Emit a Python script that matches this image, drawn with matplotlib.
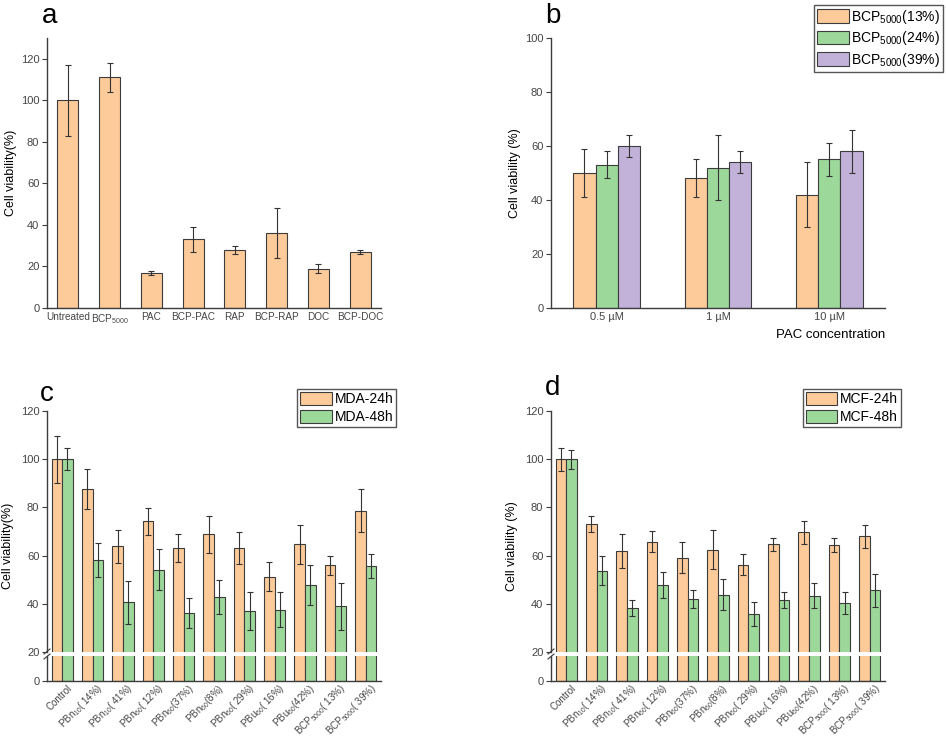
import numpy as np
import matplotlib
matplotlib.use('Agg')
import matplotlib.pyplot as plt
import matplotlib.transforms as mtrans

plt.rcParams['font.family'] = ['Liberation Sans', 'DejaVu Sans']
plt.rcParams['mathtext.fontset'] = 'custom'
plt.rcParams['mathtext.rm'] = 'Liberation Sans'
plt.rcParams['mathtext.it'] = 'Liberation Sans:italic'
plt.rcParams['mathtext.bf'] = 'Liberation Sans:bold'

ORANGE = '#fdca9a'
GREEN = '#9dd89b'
PURPLE = '#c2b2d9'
EDGE = '#3c3c3c'
TICKC = '#454545'

# panel a
a_labels = ['Untreated', r'BCP$_{\mathregular{5000}}$', 'PAC', 'BCP-PAC',
            'RAP', 'BCP-RAP', 'DOC', 'BCP-DOC']
a_values = [100, 111, 17, 33, 28, 36, 19, 27]
a_err = [17, 7, 1, 6, 2, 12, 2, 1]

# panel b
b_conc = ['0.5 \u00b5M', '1 \u00b5M', '10 \u00b5M']
b_13 = [50, 48, 42]
b_13_err = [9, 7, 12]
b_24 = [53, 52, 55]
b_24_err = [5, 12, 6]
b_39 = [60, 54, 58]
b_39_err = [4, 4, 8]
b_series = [r'BCP$_{\mathregular{5000}}$(13%)', r'BCP$_{\mathregular{5000}}$(24%)',
            r'BCP$_{\mathregular{5000}}$(39%)']

# panels c, d
cd_labels = ['Control', r'PBn$_{\mathregular{10}}$( 14%)', r'PBn$_{\mathregular{10}}$( 41%)',
             r'PBn$_{\mathregular{60}}$( 12%)', r'PBn$_{\mathregular{60}}$(37%)',
             r'PBn$_{\mathregular{60}}$(8%)', r'PBn$_{\mathregular{60}}$( 29%)',
             r'PBu$_{\mathregular{60}}$( 16%)', r'PBu$_{\mathregular{60}}$(42%)',
             r'BCP$_{\mathregular{5000}}$( 13%)', r'BCP$_{\mathregular{5000}}$( 39%)']
mda_24 = [100, 87.6, 63.8, 74.2, 63.1, 68.9, 63.1, 51.3, 64.7, 55.9, 78.7]
mda_24_err = [9.7, 8.4, 6.9, 5.6, 5.9, 7.7, 6.6, 6.0, 8.2, 4.0, 8.8]
mda_48 = [100, 58.2, 40.6, 54.2, 36.1, 42.9, 37.0, 37.5, 47.7, 39.0, 55.6]
mda_48_err = [4.5, 7.2, 8.9, 8.5, 6.1, 7.0, 7.8, 7.3, 8.4, 9.7, 5.0]
mcf_24 = [100, 73.3, 61.8, 65.7, 59.2, 62.5, 56.3, 64.7, 69.6, 64.5, 68.1]
mcf_24_err = [4.8, 3.3, 7.0, 4.4, 6.4, 8.0, 4.5, 2.7, 4.8, 2.8, 4.8]
mcf_48 = [100, 53.7, 38.4, 47.8, 41.9, 43.8, 35.7, 41.7, 43.3, 40.5, 45.6]
mcf_48_err = [4.0, 6.0, 3.3, 5.4, 3.7, 6.3, 5.0, 3.3, 5.2, 4.6, 6.9]

W, H = 946, 740
fig = plt.figure(figsize=(W / 100, H / 100), dpi=100)


def px_rect(left, top, right, bottom):
    return [left / W, 1 - bottom / H, (right - left) / W, (bottom - top) / H]


def style_axes(ax, xsize=7):
    for s in ('top', 'right'):
        ax.spines[s].set_visible(False)
    for s in ('left', 'bottom'):
        ax.spines[s].set_color(EDGE)
        ax.spines[s].set_linewidth(1.0)
    ax.tick_params(axis='y', direction='out', length=3.5, width=0.8, color=EDGE,
                   labelcolor=TICKC, labelsize=8, pad=2)
    ax.tick_params(axis='x', length=0, labelcolor=TICKC, labelsize=xsize, pad=3)


bar_kw = dict(edgecolor=EDGE, linewidth=0.8)
err_kw = dict(fmt='none', ecolor='#333333', elinewidth=0.8, capsize=2.5, capthick=0.8)

legend_kw = dict(loc='upper right', fontsize=10, frameon=True, fancybox=False,
                 edgecolor='#555555', framealpha=1, borderaxespad=0, borderpad=0.2,
                 handlelength=2.3, handleheight=1.1, handletextpad=0.2,
                 labelspacing=0.25)

# ---- panel a ----
ax = fig.add_axes(px_rect(47, 38, 381, 308))
x = np.arange(len(a_labels))
ax.bar(x, a_values, 0.5, color=ORANGE, **bar_kw)
ax.errorbar(x, a_values, yerr=a_err, **err_kw)
ax.set_xlim(-0.5, 7.5)
ax.set_ylim(0, 130)
ax.set_yticks(np.arange(0, 121, 20))
ax.set_xticks(x)
ax.set_xticklabels(a_labels)
style_axes(ax, xsize=7.2)
ax.set_ylabel('Cell viability(%)', fontsize=9, labelpad=3)

# ---- panel b ----
ax = fig.add_axes(px_rect(551, 38, 885, 308))
x = np.arange(len(b_conc))
w = 0.2
for off, vals, errs, col, lab in [(-w, b_13, b_13_err, ORANGE, b_series[0]),
                                  (0, b_24, b_24_err, GREEN, b_series[1]),
                                  (w, b_39, b_39_err, PURPLE, b_series[2])]:
    ax.bar(x + off, vals, w, color=col, label=lab, **bar_kw)
    ax.errorbar(x + off, vals, yerr=errs, **err_kw)
ax.set_xlim(-0.5, 2.5)
ax.set_ylim(0, 100)
ax.set_yticks(np.arange(0, 101, 20))
ax.set_xticks(x)
ax.set_xticklabels(b_conc)
style_axes(ax, xsize=8)
ax.set_ylabel('Cell viability (%)', fontsize=9, labelpad=3)
ax.set_xlabel('PAC concentration', fontsize=9.5, loc='right', labelpad=5)
ax.legend(bbox_to_anchor=(1.174, 1.122), **legend_kw)


# ---- panels c, d (broken y axis) ----
def broken_panel(left, v24, e24, v48, e48, lab24, lab48, ylabel, leg_x):
    right = left + 334
    ax_t = fig.add_axes(px_rect(left, 411, right, 652))
    ax_b = fig.add_axes(px_rect(left, 656, right, 681))
    x = np.arange(len(cd_labels))
    w = 0.35
    for a in (ax_t, ax_b):
        a.bar(x - w / 2, v24, w, color=ORANGE, label=lab24, **bar_kw)
        a.bar(x + w / 2, v48, w, color=GREEN, label=lab48, **bar_kw)
        a.set_xlim(-0.5, 10.5)
        style_axes(a)
    ax_t.errorbar(x - w / 2, v24, yerr=e24, **err_kw)
    ax_t.errorbar(x + w / 2, v48, yerr=e48, **err_kw)
    ax_t.set_ylim(20, 120)
    ax_t.set_yticks(np.arange(20, 121, 20))
    ax_t.spines['bottom'].set_visible(False)
    ax_t.set_xticks([])
    ax_b.set_ylim(0, 17)
    ax_b.set_yticks([0])
    ax_b.set_xticks(x)
    ax_b.set_xticklabels(cd_labels, rotation=45, ha='right', va='center',
                         rotation_mode='anchor')
    ax_b.tick_params(axis='x', pad=4)
    shift = mtrans.ScaledTranslation(6 / 72, 0, fig.dpi_scale_trans)
    for t in ax_b.get_xticklabels():
        t.set_transform(t.get_transform() + shift)
    ax_t.set_ylabel(ylabel, fontsize=9)
    ax_t.yaxis.set_label_coords(-0.1, 0.44)
    # break marks on the left spine
    dx = 3 / 334
    ax_t.plot([-dx, dx], [-2 / 241, 3 / 241], transform=ax_t.transAxes,
              color=EDGE, lw=0.8, clip_on=False)
    ax_b.plot([-dx, dx], [1 - 3 / 25, 1 + 2 / 25], transform=ax_b.transAxes,
              color=EDGE, lw=0.8, clip_on=False)
    ax_t.legend(bbox_to_anchor=(leg_x, 1.091), **legend_kw)
    return ax_t


ax_c = broken_panel(47, mda_24, mda_24_err, mda_48, mda_48_err,
                    'MDA-24h', 'MDA-48h', 'Cell viability(%)', 1.045)
ax_d = broken_panel(551, mcf_24, mcf_24_err, mcf_48, mcf_48_err,
                    'MCF-24h', 'MCF-48h', 'Cell viability (%)', 1.048)

# panel letters
for lx, ly, letter in [(42, 23, 'a'), (545, 23, 'b'), (40, 401, 'c'), (545, 395, 'd')]:
    fig.text(lx / W, 1 - ly / H, letter, fontsize=20, va='baseline', ha='left')

fig.savefig('out.png', dpi=100)
